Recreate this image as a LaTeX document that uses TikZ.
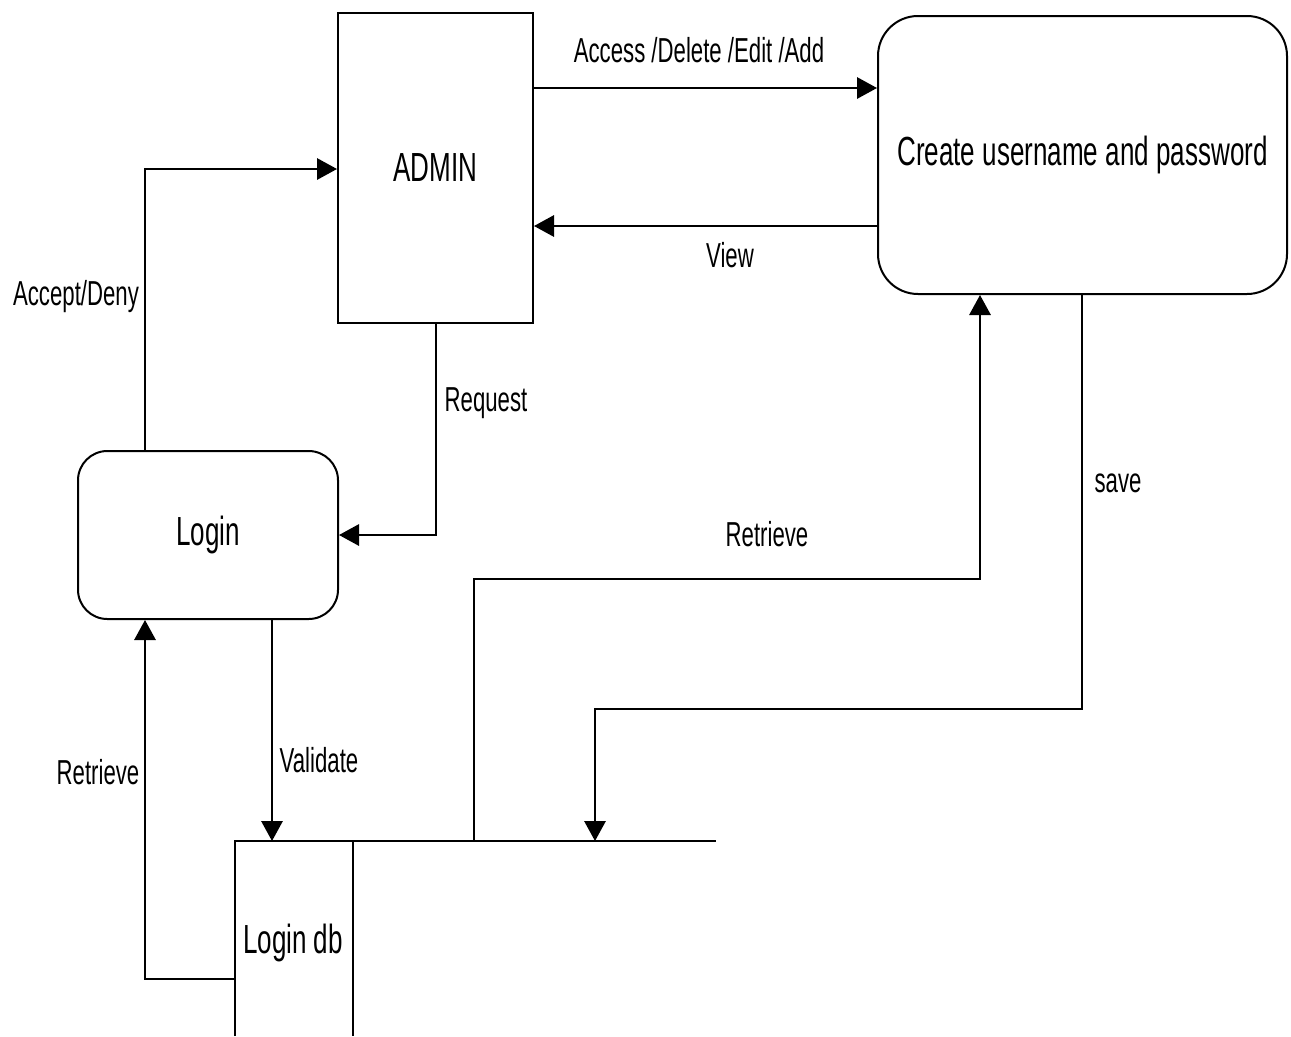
\documentclass[tikz,border=0pt]{standalone}
\usepackage{fontspec}
\setmainfont{Liberation Sans}[FakeStretch=0.64]
\usetikzlibrary{arrows.meta,calc}
\begin{document}
\begin{tikzpicture}[x=0.75pt,y=-0.75pt,
  line width=1.5pt,
  arr/.style={-{Triangle[length=15pt,width=16pt]}},
  proc/.style={draw,rounded corners=#1,inner sep=0pt,font=\fontsize{30.5}{36}\selectfont},
  sq/.style={draw,rectangle,inner sep=0pt,font=\fontsize{30.5}{36}\selectfont},
  lbl/.style={anchor=base,inner sep=0pt,font=\fontsize{26}{31}\selectfont},
  big/.style={inner sep=0pt,font=\fontsize{30.5}{36}\selectfont}]
\useasboundingbox (0,0) rectangle (1291,1036);
% nodes
\node[sq,minimum width=146.25pt,minimum height=232.5pt] (admin) at (435.5,168) {ADMIN};
\node[proc=30pt,minimum width=306.75pt,minimum height=208.5pt] (create) at (1082.5,155) {Create username and password};
\node[proc=22pt,minimum width=195pt,minimum height=126pt] (login) at (208,535) {Login};
% data store
\draw (235,1036) -- (235,841) -- (716,841);
\draw (353,841) -- (353,1036);
\node[big,anchor=base] (db) at (293,953) {Login db};
\coordinate (dbv) at (272,841);
\coordinate (dbr) at (474,841);
\coordinate (dbs) at (595,841);
\coordinate (dbl) at (235,979);
% connectors
\draw[arr] (admin.east |- 0,88) -- (create.west |- 0,88);
\draw[arr] (create.west |- 0,226) -- (admin.east |- 0,226);
\draw[arr] (login.north -| 145,0) |- (admin.west |- 0,169);
\draw[arr] (admin.south -| 436,0) |- (login.east |- 0,535);
\draw[arr] (login.south -| 272,0) -- (dbv);
\draw[arr] (dbl) -| (login.south -| 145,0);
\draw[arr] (dbr) |- (980,579) -- (create.south -| 980,0);
\draw[arr] (create.south -| 1082,0) |- (595,709) -- (dbs);
% labels
\node[lbl] (l1) at (699,62) {Access /Delete /Edit /Add};
\node[lbl] (l2) at (730,267) {View};
\node[lbl] (l3) at (76,305) {Accept/Deny};
\node[lbl] (l4) at (486,411) {Request};
\node[lbl] (l5) at (1118,492) {save};
\node[lbl] (l6) at (767,546) {Retrieve};
\node[lbl] (l7) at (319,772) {Validate};
\node[lbl] (l8) at (98,784) {Retrieve};
\end{tikzpicture}
\end{document}
